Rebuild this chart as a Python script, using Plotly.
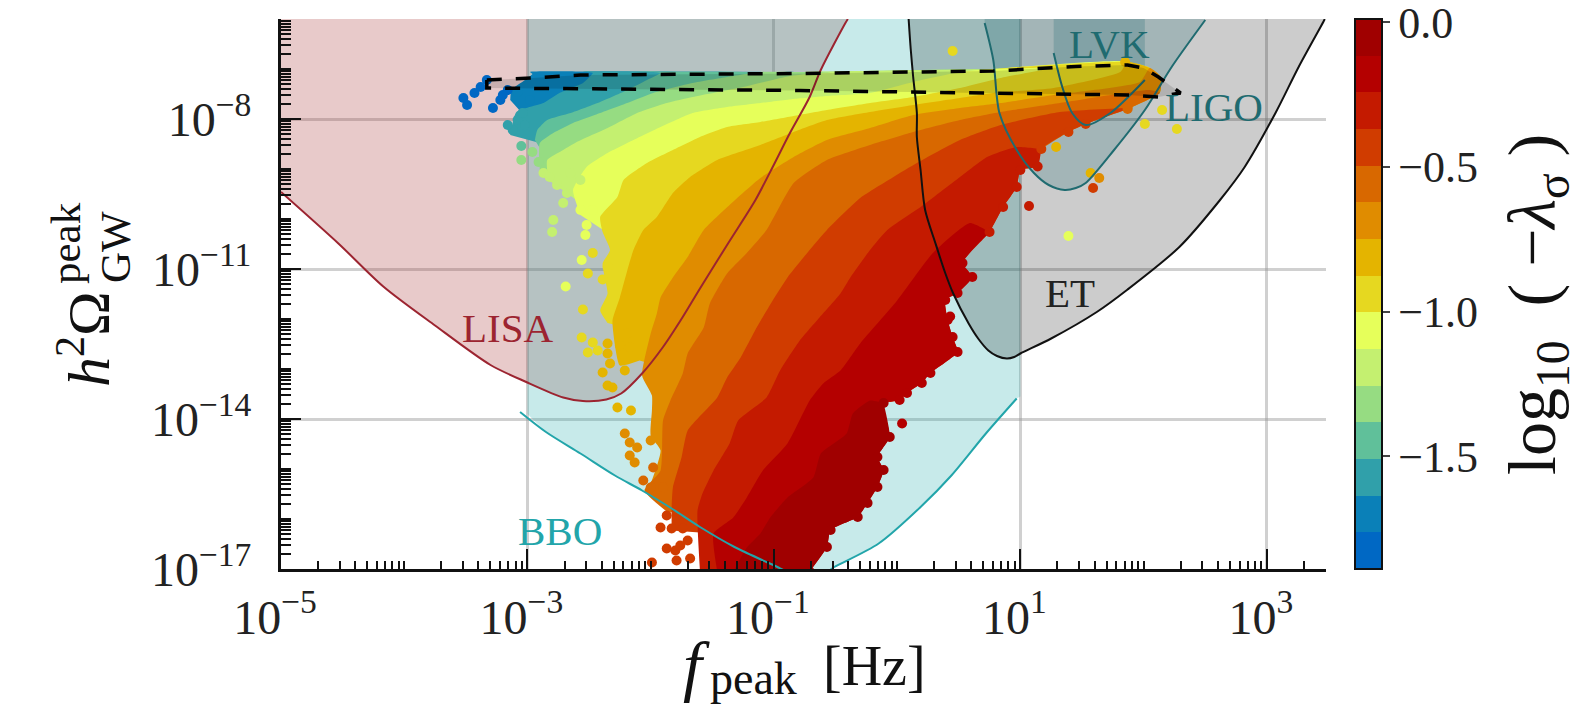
import plotly.graph_objects as go
import numpy as np

# ---------- data, all in log10(f/Hz) and log10(h2 Omega) ----------
X_TICKS = [-5, -3, -1, 1, 3]
Y_TICKS = [-17, -14, -11, -8]
X_LABELS = ["10<sup>−5</sup>\u00a0", "10<sup>−3</sup>\u00a0", "10<sup>−1</sup>\u00a0", "10<sup>1</sup>\u00a0", "10<sup>3</sup>\u00a0"]
Y_LABELS = ["10<sup>−17</sup>", "10<sup>−14</sup>", "10<sup>−11</sup>", "10<sup>−8</sup>"]
CB_TICKS = [0, -0.5, -1.0, -1.5]
CB_LABELS = ["0.0", "−0.5", "−1.0", "−1.5"]
CB_MIN, CB_MAX = -1.89, 0.012

LISA_X = [-5.0, -4.53, -4.17, -3.75, -3.30, -3.01, -2.71, -2.55, -2.36, -2.24, -2.07, -1.90, -1.74, -1.60, -1.37, -1.15, -1.01, -0.87, -0.71, -0.62, -0.42, -0.40]
LISA_Y = [-9.46, -10.50, -11.35, -12.13, -12.92, -13.26, -13.57, -13.64, -13.61, -13.49, -13.09, -12.56, -11.96, -11.39, -10.48, -9.62, -8.96, -8.28, -7.56, -7.02, -6.08, -6.0]

BBO_X = [-3.06, -2.85, -2.57, -2.29, -2.07, -1.83, -1.60, -1.32, -0.98, -0.89, -0.57, -0.51, -0.15, 0.19, 0.44, 0.72, 0.97]
BBO_Y = [-13.86, -14.26, -14.69, -15.13, -15.43, -15.79, -16.16, -16.56, -16.95, -17.05, -17.05, -16.96, -16.49, -15.76, -15.13, -14.29, -13.59]

ET_X = [0.093, 0.11, 0.13, 0.16, 0.16, 0.19, 0.227, 0.31, 0.39, 0.455, 0.58, 0.66, 0.74, 0.81, 0.89, 0.95, 1.00, 1.25, 1.62, 1.87, 2.29, 2.62, 2.82, 3.07, 3.26, 3.46, 3.47]
ET_Y = [-6.0, -6.6, -7.16, -7.88, -8.36, -9.02, -9.82, -10.48, -11.08, -11.49, -12.09, -12.40, -12.63, -12.74, -12.79, -12.76, -12.69, -12.39, -11.86, -11.41, -10.56, -9.62, -8.96, -7.88, -6.95, -6.05, -6.0]

LIGO_X = [0.71, 0.78, 0.83, 0.97, 1.11, 1.23, 1.36, 1.45, 1.53, 1.76, 2.01, 2.23, 2.50]
LIGO_Y = [-6.08, -6.82, -7.88, -8.62, -9.08, -9.32, -9.42, -9.38, -9.28, -8.62, -7.82, -6.95, -6.02]

LVK_X = [1.27, 1.34, 1.42, 1.53, 1.73, 2.01]
LVK_Y = [-6.68, -7.36, -7.88, -8.12, -7.88, -7.22]

DASH_X = [-3.33, -2.96, -2.57, -0.79, 0.78, 1.45, 1.87, 2.00, 2.12, 2.30, 2.12, 1.87, -0.79, -3.33, -3.33]
DASH_Y = [-7.22, -7.18, -7.12, -7.09, -7.04, -6.95, -6.92, -6.98, -7.16, -7.48, -7.56, -7.52, -7.43, -7.38, -7.22]

# right-hand edge of the populated wedge, from the top left round to the bottom
EDGE_X = [-2.98, -2.57, -0.79, 0.78, 1.87, 2.05, 2.14, 2.13, 1.87, 1.53, 1.39, 1.17, 1.14, 1.00, 0.97, 0.86, 0.75, 0.53, 0.61, 0.49, 0.39, 0.41, 0.45, 0.49, 0.27, 0.20, 0.08, 0.02, -0.11, -0.06, -0.16, -0.11, -0.16, -0.24, -0.32, -0.54, -0.57, -0.71]
EDGE_Y = [-7.06, -7.05, -7.06, -7.00, -6.86, -6.98, -7.16, -7.48, -7.80, -8.10, -8.26, -8.60, -8.95, -9.02, -9.36, -9.76, -10.26, -10.88, -11.16, -11.48, -11.62, -12.02, -12.36, -12.66, -13.08, -13.28, -13.48, -13.62, -13.68, -14.36, -14.76, -15.02, -15.36, -15.68, -15.96, -16.22, -16.56, -17.05]
# colour value of the rounded points on that edge, from its ninth point onward
EDGE_V = [-0.57, -0.44, -0.44, -0.44, -0.31, -0.31, -0.31, -0.31, -0.31, -0.19, -0.19, -0.19, -0.19, -0.19, -0.19, -0.19, -0.19, -0.19, -0.19, -0.19,
          -0.06, -0.06, -0.06, -0.06, -0.06, -0.06, -0.06, -0.06, -0.06, -0.06]

# lower edge of each colour level, from lower left to upper right
L14_X = [-3.14, -3.13, -3.02, -2.96]
L14_Y = [-7.62, -7.42, -7.22, -7.10]
L13_X = [-3.14, -3.09, -2.87, -2.74, -2.55, -2.47]
L13_Y = [-8.32, -7.86, -7.68, -7.48, -7.28, -7.08]
L12_X = [-2.94, -2.92, -2.84, -2.65, -2.41, -2.19, -2.03, -1.92]
L12_Y = [-8.42, -8.22, -8.02, -7.88, -7.66, -7.42, -7.22, -7.08]
L11_X = [-2.90, -2.90, -2.79, -2.63, -2.41, -2.19, -1.98, -1.66, -1.38, -1.11]
L11_Y = [-9.02, -8.48, -8.28, -8.08, -7.88, -7.68, -7.48, -7.28, -7.16, -7.06]
L10_X = [-2.83, -2.84, -2.71, -2.60, -2.35, -2.11, -1.87, -1.66, -1.25, -0.87, -0.54]
L10_Y = [-9.22, -8.82, -8.62, -8.46, -8.18, -7.88, -7.68, -7.56, -7.36, -7.14, -7.06]
L9_X = [-2.57, -2.63, -2.52, -2.35, -2.14, -1.92, -1.66, -1.38, -1.11, -0.84, -0.57, -0.22, 0.13, 0.51]
L9_Y = [-9.92, -9.42, -8.96, -8.68, -8.42, -8.16, -7.88, -7.76, -7.68, -7.60, -7.54, -7.48, -7.26, -7.06]
L8_X = [-2.35, -2.41, -2.35, -2.39, -2.33, -2.39, -2.41, -2.27, -2.22, -2.03, -1.82, -1.60, -1.38, -1.11, -0.84, -0.57, -0.22, 0.13, 0.51, 0.84, 1.24]
L8_Y = [-12.08, -11.83, -11.49, -10.89, -10.62, -10.26, -9.96, -9.56, -9.22, -8.88, -8.62, -8.36, -8.16, -8.06, -7.94, -7.82, -7.68, -7.56, -7.38, -7.18, -6.98]
L7_X = [-2.09, -2.25, -2.29, -2.31, -2.25, -2.19, -2.14, -2.06, -1.95, -1.82, -1.68, -1.46, -1.11, -0.84, -0.57, -0.22, 0.13, 0.51, 0.78, 1.27, 1.81]
L7_Y = [-12.83, -12.93, -12.53, -12.03, -11.57, -11.03, -10.62, -10.22, -9.96, -9.48, -9.16, -8.82, -8.52, -8.26, -8.02, -7.86, -7.72, -7.58, -7.48, -7.38, -7.06]
L6_X = [-2.02, -1.92, -2.00, -1.99, -1.99, -2.07, -2.00, -1.95, -1.92, -1.82, -1.70, -1.57, -1.36, -1.11, -0.84, -0.57, -0.22, 0.13, 0.51, 0.84, 1.27, 1.97]
L6_Y = [-15.43, -14.63, -14.33, -13.83, -13.53, -13.13, -12.29, -11.89, -11.57, -11.17, -10.76, -10.22, -9.72, -9.18, -8.76, -8.42, -8.18, -7.92, -7.78, -7.68, -7.52, -7.26]
L5_X = [-1.86, -2.05, -1.92, -1.90, -1.84, -1.74, -1.70, -1.57, -1.52, -1.38, -1.22, -1.06, -0.84, -0.57, -0.22, 0.13, 0.51, 0.84, 1.32, 2.05]
L5_Y = [-15.87, -15.43, -15.03, -14.03, -13.63, -13.09, -12.69, -12.17, -11.69, -11.09, -10.68, -10.22, -9.28, -8.82, -8.52, -8.26, -8.02, -7.86, -7.68, -7.42]
L4_X = [-1.83, -1.83, -1.82, -1.75, -1.70, -1.46, -1.38, -1.27, -1.14, -1.01, -0.89, -0.73, -0.57, -0.30, -0.03, 0.16, 0.51, 0.84, 1.32, 1.89]
L4_Y = [-16.23, -15.77, -15.37, -14.77, -14.23, -13.57, -13.17, -12.77, -12.17, -11.63, -11.17, -10.68, -10.22, -9.58, -9.16, -8.88, -8.42, -8.12, -7.86, -7.78]
L3_X = [-1.60, -1.62, -1.58, -1.49, -1.36, -1.29, -1.06, -0.95, -0.79, -0.63, -0.46, -0.38, -0.22, -0.08, 0.19, 0.51, 0.73, 0.97, 1.17]
L3_Y = [-17.05, -15.83, -15.49, -15.03, -14.49, -14.03, -13.57, -13.03, -12.43, -11.97, -11.49, -11.17, -10.62, -10.22, -9.76, -9.16, -8.76, -8.56, -8.60]
L2_X = [-1.46, -1.49, -1.33, -1.22, -1.09, -0.89, -0.71, -0.60, -0.46, -0.30, 0.00, 0.29, 0.59, 0.75]
L2_Y = [-17.05, -16.29, -15.97, -15.57, -15.03, -14.49, -13.63, -13.29, -13.03, -12.49, -11.63, -10.68, -10.08, -10.26]
L1_X = [-1.33, -1.22, -1.11, -1.03, -0.89, -0.68, -0.62, -0.41, -0.36, -0.22, -0.11]
L1_Y = [-17.05, -16.57, -16.29, -15.97, -15.57, -15.17, -14.69, -14.29, -13.89, -13.63, -13.68]

# isolated points (log f, log Omega, colour value)
DOT_X = [-3.52, -3.49, -3.43, -3.38, -3.33, -3.28, -3.22, -3.16, -3.20,
         -3.08, -2.98,
         -3.12, -3.08, -3.04, -3.16, -3.02,
         -3.05,
         -3.05, -2.96, -2.91,
         -2.87, -2.82, -2.76, -2.71, -2.79, -2.80, -2.65, -2.68, -2.57,
         -2.57, -2.52, -2.47, -2.53, -2.56, -2.69,
         -2.47, -2.51, -2.39, -2.35, -2.55, -2.56, -2.51, -2.47, -2.43,
         -2.35, -2.35, -2.33, -2.21, -2.39, -2.31, -2.35, -2.27, -2.16, -2.19, -2.25, -2.17,
         -2.21, -2.17, -2.11, -2.17, -2.13, -2.00,
         -2.06, -1.98, -2.00, -1.90,
         -1.87, -1.92, -1.83, -1.74, -1.87, -1.80, -1.70, -1.68, -1.99, -1.79, -1.76,
         0.45, 2.15, 2.01, 2.27, 1.29, 1.57, 1.64, 1.59, 1.07, 1.39, 1.87, 1.85, 0.43, 0.04]
DOT_Y = [-7.58, -7.72, -7.48, -7.36, -7.22, -7.78, -7.62, -7.42, -7.52,
         -7.46, -7.62,
         -8.22, -8.02, -7.88, -8.12, -8.12,
         -8.54,
         -8.82, -8.66, -8.86,
         -9.08, -9.16, -9.32, -9.68, -10.02, -10.26, -9.08, -9.48, -9.22,
         -9.82, -10.12, -9.82, -10.32, -10.82, -11.35,
         -10.68, -11.09, -11.21, -10.96, -11.81, -12.37, -12.67, -12.47, -12.63,
         -12.49, -12.69, -12.89, -13.03, -13.07, -13.37, -13.33, -13.77, -13.83, -12.29, -12.53, -12.57,
         -14.29, -14.47, -14.57, -14.73, -14.87, -14.43,
         -15.23, -14.97, -15.37, -15.37,
         -15.93, -16.17, -16.19, -16.19, -16.59, -16.63, -16.43, -16.79, -16.87, -16.83, -16.53,
         -6.64, -7.82, -8.10, -8.20, -8.56, -9.08, -9.18, -9.38, -9.74, -10.34, -7.76, -6.86, -11.95, -14.09]
DOT_V = [-1.83] * 9 + [-1.70] * 2 + [-1.57] * 5 + [-1.44] + [-1.31] * 3 + [-1.19] * 9 + [-1.06] * 6 + [-0.94] * 9 + \
        [-0.82] * 12 + [-0.69] * 6 + [-0.57] * 4 + [-0.44] * 11 + \
        [-0.94, -0.94, -0.94, -0.94, -0.82, -0.82, -0.69, -0.44, -0.31, -1.06, -0.57, -0.82, -0.19, -0.19]

# level colours, bottom of the colour bar to the top
LEVEL_COLORS = ["#0068c4", "#0a80b8", "#30a0aa", "#60c09a", "#96dc82", "#c4f070", "#e6ff5a", "#e6d820",
                "#e4b400", "#e08c00", "#d86800", "#d03c00", "#c41a00", "#b40000", "#a00000"]

# ---------- styling ----------
SERIF = "Liberation Serif"
L, R, T, B = 281, 1326, 19, 569
W, H = 1593, 724


def raw(a):
    return [10.0 ** v for v in a]


def px(x, y):
    return (x - L) / (R - L), 1 - (y - T) / (B - T)


def fill(xs, ys, color, shape="linear"):
    return go.Scatter(x=raw(xs), y=raw(ys), mode="lines", fill="toself", fillcolor=color,
                      line=dict(width=0, shape=shape, smoothing=0.5), hoverinfo="skip", showlegend=False)


def curve(xs, ys, color, width=2):
    return go.Scatter(x=raw(xs), y=raw(ys), mode="lines", line=dict(color=color, width=width, shape="spline", smoothing=0.8),
                      hoverinfo="skip", showlegend=False)


LEVELS = [(L14_X, L14_Y), (L13_X, L13_Y), (L12_X, L12_Y), (L11_X, L11_Y), (L10_X, L10_Y), (L9_X, L9_Y), (L8_X, L8_Y),
          (L7_X, L7_Y), (L6_X, L6_Y), (L5_X, L5_Y), (L4_X, L4_Y), (L3_X, L3_Y), (L2_X, L2_Y), (L1_X, L1_Y)]


def nearest(xa, ya, x, y):
    return int(np.argmin((np.array(xa) - x) ** 2 + ((np.array(ya) - y) * 0.4) ** 2))


def band(i, color):
    # a ring from this level's edge to the edge two levels on, which the later levels cover
    xs, ys = LEVELS[i]
    j = nearest(EDGE_X, EDGE_Y, xs[-1], ys[-1])
    if i + 2 < len(LEVELS):
        nx, ny = LEVELS[i + 2]
        j2 = nearest(EDGE_X, EDGE_Y, nx[-1], ny[-1])
        m = nearest(nx, ny, xs[0], ys[0])
        return fill(list(xs) + EDGE_X[j:j2 + 1] + nx[m:][::-1], list(ys) + EDGE_Y[j:j2 + 1] + ny[m:][::-1], color, "spline")
    return fill(list(xs) + EDGE_X[j:], list(ys) + EDGE_Y[j:], color, "spline")


fig = go.Figure()

TOP = -6.0
fig.add_trace(fill(LISA_X + [-5.0], LISA_Y + [TOP], "rgba(165,42,42,0.25)"))
fig.add_trace(fill([-3.0] + BBO_X[1:] + [1.0, 1.0, -3.0], [-13.9] + BBO_Y[1:] + [-13.55, TOP, TOP], "rgba(32,170,170,0.25)"))
fig.add_trace(fill(ET_X, ET_Y, "rgba(0,0,0,0.2)"))
fig.add_trace(fill(LIGO_X + [LIGO_X[-1], LIGO_X[0]], LIGO_Y + [TOP, TOP], "rgba(0,90,100,0.2)"))
fig.add_trace(fill(LVK_X + [LVK_X[-1], LVK_X[0]], LVK_Y + [TOP, TOP], "rgba(0,90,100,0.2)"))

for i in range(len(LEVELS)):
    fig.add_trace(band(i, LEVEL_COLORS[i + 1]))

n = len(LEVEL_COLORS)
colorscale = []
for i, c in enumerate(LEVEL_COLORS):
    colorscale += [[i / n, c], [(i + 1) / n, c]]

fig.add_trace(go.Scatter(
    x=raw(DOT_X + EDGE_X[8:]), y=raw(DOT_Y + EDGE_Y[8:]), mode="markers", hoverinfo="skip", showlegend=False,
    marker=dict(size=10, color=DOT_V + EDGE_V, cmin=CB_MIN, cmax=CB_MAX, colorscale=colorscale, line=dict(width=0),
                colorbar=dict(
                    thickness=27, thicknessmode="pixels", len=1, lenmode="fraction", y=0, yanchor="bottom",
                    ypad=0, xpad=0, x=(1355 - L) / (R - L), xanchor="left",
                    outlinecolor="#111", outlinewidth=2,
                    tickmode="array", tickvals=CB_TICKS, ticktext=CB_LABELS,
                    ticks="outside", ticklen=7, tickwidth=2, tickcolor="#444",
                    ticklabeloverflow="allow",
                    tickfont=dict(family=SERIF, size=44, color="#222"),
                ))))

fig.add_trace(curve(LISA_X, LISA_Y, "#9c2430"))
fig.add_trace(curve(BBO_X, BBO_Y, "#22a5aa"))
fig.add_trace(curve(ET_X, ET_Y, "#111111"))
fig.add_trace(curve(LIGO_X, LIGO_Y, "#1f6b70"))
fig.add_trace(curve(LVK_X, LVK_Y, "#1f6b70"))
fig.add_trace(go.Scatter(x=raw(DASH_X), y=raw(DASH_Y), mode="lines", fill="toself", fillcolor="rgba(0,0,0,0.13)",
                         line=dict(color="black", width=3.5, dash="15px,14px"),
                         hoverinfo="skip", showlegend=False))

minor_x = [m * 10.0 ** d for d in range(-5, 4) for m in ([1] if d % 2 == 0 else []) + list(range(2, 10))]
minor_x = [v for v in minor_x if v <= 10 ** 3.48]
minor_y = [m * 10.0 ** d for d in range(-17, -5) for m in ([1] if (d + 17) % 3 else []) + list(range(2, 10))]
minor_y = [v for v in minor_y if v <= 1e-6]

fig.update_layout(
    width=W, height=H, autosize=False,
    margin=dict(l=L, r=W - R, t=T, b=H - B, pad=0),
    paper_bgcolor="white", plot_bgcolor="white",
    font=dict(family=SERIF, color="#222"),
    xaxis=dict(type="log", range=[-5, 3.48], showline=True, linecolor="#111", linewidth=3, mirror=False,
               tickmode="array", tickvals=raw(X_TICKS), ticktext=X_LABELS, ticks="inside", ticklen=20, tickwidth=2,
               tickcolor="#111", tickfont=dict(family=SERIF, size=48, color="#222"),
               showgrid=True, gridcolor="rgba(150,150,150,0.45)", gridwidth=2.5, zeroline=False,
               ticklabelstandoff=4,
               minor=dict(tickmode="array", tickvals=minor_x, ticks="inside", ticklen=8, tickwidth=1.5,
                          tickcolor="#111", showgrid=False)),
    yaxis=dict(type="log", range=[-17, -6], showline=True, linecolor="#111", linewidth=3, mirror=False,
               tickmode="array", tickvals=raw(Y_TICKS), ticktext=Y_LABELS, ticks="inside", ticklen=20, tickwidth=2,
               tickcolor="#111", tickfont=dict(family=SERIF, size=48, color="#222"),
               showgrid=True, gridcolor="rgba(150,150,150,0.45)", gridwidth=2.5, zeroline=False,
               ticklabelstandoff=17,
               minor=dict(tickmode="array", tickvals=minor_y, ticks="inside", ticklen=10, tickwidth=2,
                          tickcolor="#111", showgrid=False)),
)

anns = []


def label(x, y, text, color, size=41):
    anns.append(dict(x=x, y=y, xref="x", yref="y", text=text, showarrow=False,
                     font=dict(family=SERIF, size=size, color=color), xanchor="center", yanchor="middle"))


label(-3.16, -12.17, "LISA", "#9c2430")
label(-2.74, -16.23, "BBO", "#22a5aa")
label(1.40, -11.48, "ET", "#222222")
label(1.72, -6.49, "LVK", "#1f6b70")
label(2.57, -7.76, "LIGO", "#1f6b70")


def ptext(x, y, text, size, angle=0):
    a, b = px(x, y)
    anns.append(dict(x=a, y=b, xref="paper", yref="paper", text=text, showarrow=False, textangle=angle,
                     font=dict(family=SERIF, size=size, color="#111"), xanchor="center", yanchor="middle"))


ptext(696, 666, "<i>f</i>", 68)
ptext(753, 678, "peak", 46)
ptext(874, 666, "[Hz]", 56)
ptext(84, 339, "<i>h</i><sup>2</sup>Ω", 60, -90)
ptext(115, 247, "GW", 43, -90)
ptext(66, 243, "peak", 43, -90)
ptext(1536, 305, "log<sub>10</sub>\u00a0\u00a0(\u00a0−<i>λ</i><sub>σ</sub>\u00a0)", 68, -90)

fig.update_layout(annotations=anns)

fig.write_html("out.html", config={"displayModeBar": False},
               post_script="document.body.style.margin='0';document.body.style.overflow='hidden';")
